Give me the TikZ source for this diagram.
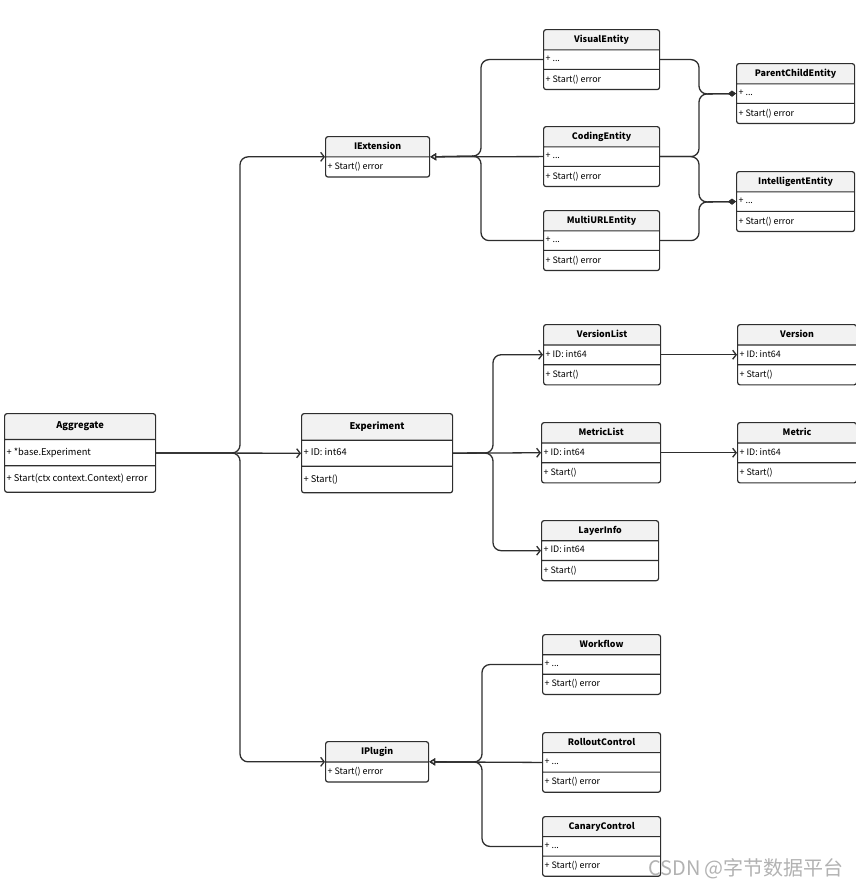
\documentclass[tikz,border=0pt]{standalone}
\usepackage{fontspec}
\setmainfont{Noto Sans CJK SC}
\newfontfamily\cjkfont{Noto Sans CJK SC}
\usetikzlibrary{shapes.multipart,arrows.meta}
\definecolor{linecol}{HTML}{2E2E2E}
\definecolor{headcol}{HTML}{F2F2F2}
% fixed height for every compartment
\newcommand{\ustrut}{\rule[-2.2pt]{0pt}{8.8pt}}
% the three compartments of a class box
\newcommand{\umlparts}[3]{\textbf{#1}\ustrut\nodepart{two}#2\ustrut\nodepart{three}#3\ustrut}

\begin{document}
\begin{tikzpicture}[x=1pt,y=-1pt,
  cls/.style={rectangle split, rectangle split parts=3, draw=linecol, line width=1.2pt,
    rounded corners=2.5pt, rectangle split part fill={headcol,white,white},
    rectangle split part align={center,left,left},
    font=\fontsize{8.9}{10}\selectfont,
    inner xsep=2pt, inner ysep=4.75pt, anchor=north west},
  bigcls/.style={cls, font=\fontsize{9.3}{10}\selectfont, inner ysep=7.75pt},
  iface/.style={cls, rectangle split parts=2},
  conn/.style={draw=linecol, line width=1.3pt, rounded corners=8pt},
  uses/.style={conn, -{Straight Barb[length=3.5pt,width=9pt]}},
  impl/.style={conn, -{Triangle[open,length=6pt,width=7pt,fill=white]}},
  owns/.style={conn, -{Diamond[length=8pt,width=6pt]}}]
  \useasboundingbox (0,0) rectangle (856,889);

  % root and its three parts
  \node[bigcls, minimum width=151] (agg) at (4,413)
    {\umlparts{Aggregate}{+ *base.Experiment}{+ Start(ctx context.Context) error}};
  \node[bigcls, minimum width=151] (exp) at (301,413)
    {\umlparts{Experiment}{+ ID: int64}{+ Start()}};
  \node[iface, minimum width=104] (iext) at (325,136)
    {\textbf{IExtension}\ustrut\nodepart{two}+ Start() error\ustrut};
  \node[iface, minimum width=103] (iplug) at (325,741)
    {\textbf{IPlugin}\ustrut\nodepart{two}+ Start() error\ustrut};

  % extensions
  \node[cls, minimum width=116] (vis) at (543,29) {\umlparts{VisualEntity}{+ ...}{+ Start() error}};
  \node[cls, minimum width=116] (cod) at (543,126) {\umlparts{CodingEntity}{+ ...}{+ Start() error}};
  \node[cls, minimum width=116] (murl) at (543,210) {\umlparts{MultiURLEntity}{+ ...}{+ Start() error}};
  \node[cls, minimum width=118] (pce) at (736,63) {\umlparts{ParentChildEntity}{+ ...}{+ Start() error}};
  \node[cls, minimum width=118] (ine) at (736,171) {\umlparts{IntelligentEntity}{+ ...}{+ Start() error}};

  % experiment members
  \node[cls, minimum width=117] (vlist) at (543,324) {\umlparts{VersionList}{+ ID: int64}{+ Start()}};
  \node[cls, minimum width=119] (ver) at (737,324) {\umlparts{Version}{+ ID: int64}{+ Start()}};
  \node[cls, minimum width=119] (mlist) at (541,422) {\umlparts{MetricList}{+ ID: int64}{+ Start()}};
  \node[cls, minimum width=119] (met) at (737,422) {\umlparts{Metric}{+ ID: int64}{+ Start()}};
  \node[cls, minimum width=117] (layer) at (541,520) {\umlparts{LayerInfo}{+ ID: int64}{+ Start()}};

  % plugins
  \node[cls, minimum width=118] (wflow) at (542,634) {\umlparts{Workflow}{+ ...}{+ Start() error}};
  \node[cls, minimum width=118] (roll) at (542,732) {\umlparts{RolloutControl}{+ ...}{+ Start() error}};
  \node[cls, minimum width=118] (canary) at (542,816) {\umlparts{CanaryControl}{+ ...}{+ Start() error}};

  % junction points of the braces
  \coordinate (jagg) at (240,453);
  \coordinate (jext) at (481,156);
  \coordinate (jpce) at (699,94);
  \coordinate (jine) at (699,202);
  \coordinate (jexp) at (493,453);
  \coordinate (jplug) at (482,762);

  % aggregate -> parts
  \draw[uses] (agg.east) -- (exp.west);
  \draw[uses] (agg.east) -- (jagg) |- (iext.west);
  \draw[uses] (agg.east) -- (jagg) |- (iplug.west);

  % realisations of IExtension
  \draw[impl] (vis.west) -| (jext) -- (iext.east);
  \draw[impl] (cod.west) -- (iext.east);
  \draw[impl] (murl.west) -| (jext) -- (iext.east);

  % compositions
  \draw[owns] (vis.east) -| (jpce) -- (pce.west);
  \draw[owns] (cod.east) -| (jpce) -- (pce.west);
  \draw[owns] (cod.east) -| (jine) -- (ine.west);
  \draw[owns] (murl.east) -| (jine) -- (ine.west);

  % experiment -> lists
  \draw[uses] (exp.east) -- (jexp) |- (vlist.west);
  \draw[uses] (exp.east) -- (mlist.west);
  \draw[uses] (exp.east) -- (jexp) |- (layer.west);
  \draw[uses] (vlist.east) -- (ver.west);
  \draw[uses] (mlist.east) -- (met.west);

  % realisations of IPlugin
  \draw[impl] (wflow.west) -| (jplug) -- (iplug.east);
  \draw[impl] (roll.west) -- (iplug.east);
  \draw[impl] (canary.west) -| (jplug) -- (iplug.east);

  % watermark
  \node[text=gray!60, font=\cjkfont\fontsize{20}{20}\selectfont] (mark) at (746,869) {CSDN @字节数据平台};

\end{tikzpicture}
\end{document}
